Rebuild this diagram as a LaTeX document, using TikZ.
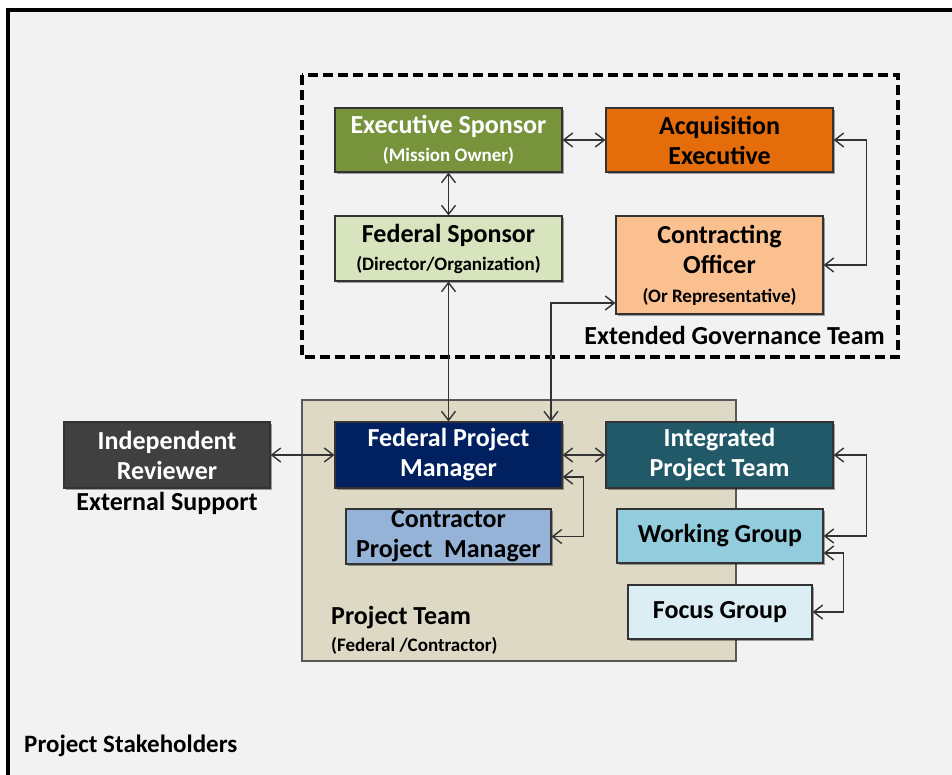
\documentclass[tikz,border=0pt]{standalone}
\usepackage{fontspec}
\setmainfont{Carlito}
\usetikzlibrary{arrows.meta,shadows,calc}
\definecolor{bgc}{HTML}{F2F2F2}
\definecolor{esc}{HTML}{77933C}
\definecolor{aec}{HTML}{E46C0A}
\definecolor{fsc}{HTML}{D7E4BD}
\definecolor{coc}{HTML}{FAC090}
\definecolor{ptc}{HTML}{DDD9C4}
\definecolor{irc}{HTML}{404040}
\definecolor{fpmc}{HTML}{002060}
\definecolor{iptc}{HTML}{215968}
\definecolor{cpmc}{HTML}{95B3D7}
\definecolor{wgc}{HTML}{93CDDD}
\definecolor{fgc}{HTML}{DBEEF4}
\newcommand{\subf}{\fontsize{19}{22}\selectfont}
\tikzset{
  box/.style={draw=black!80, line width=1.2pt, inner sep=0pt, align=center,
    font=\fontsize{26}{30}\selectfont\bfseries,
    drop shadow={shadow xshift=2pt,shadow yshift=-2pt,fill=black,opacity=.35}},
  conn/.style={draw=black!80, line width=1.4pt, {Straight Barb[length=9pt,width=14pt]}-{Straight Barb[length=9pt,width=14pt]}},
  lbl/.style={inner sep=0pt, font=\fontsize{26}{30}\selectfont\bfseries}
}
\begin{document}
\begin{tikzpicture}[x=1pt,y=-1pt]
\useasboundingbox (0,0) rectangle (952,775);
\fill[white] (0,0) rectangle (952,775);
\fill[bgc] (8,10) rectangle (960,785);
\draw[line width=3.2pt] (8,790) -- (8,10) -- (960,10);
% extended governance
\draw[line width=3.4pt, dash pattern=on 10pt off 5pt] (302,75) rectangle (898,357);
\node[lbl, anchor=east] (egt) at (885,335) {Extended Governance Team};
% project team
\draw[fill=ptc, draw=black!65, line width=1.4pt] (302,400) rectangle (736,661);
\node[lbl, anchor=west] (pt) at (331,618) {Project Team};
\node[inner sep=0pt, anchor=west, font=\subf\bfseries] (ptsub) at (331,646) {(Federal /Contractor)};
% nodes
\node[box, fill=esc, text=white, minimum width=227pt, minimum height=64pt] (ES) at (448.5,140) {Executive Sponsor\\[-2pt]{\subf (Mission Owner)}};
\node[box, fill=aec, text=black, minimum width=227pt, minimum height=64pt] (AE) at (719.5,140) {Acquisition\\Executive};
\node[box, fill=fsc, text=black, minimum width=227pt, minimum height=65pt] (FS) at (448.5,248.5) {Federal Sponsor\\[-2pt]{\subf (Director/Organization)}};
\node[box, fill=coc, text=black, minimum width=207pt, minimum height=98pt] (CO) at (719.5,265) {Contracting\\Officer\\[-1pt]{\subf (Or Representative)}};
\node[box, fill=irc, text=white, minimum width=206pt, minimum height=66pt] (IR) at (167,455) {Independent\\Reviewer};
\node[lbl] (ext) at (167,503) {External Support};
\node[box, fill=fpmc, text=white, minimum width=227pt, minimum height=66pt] (FPM) at (448.5,455) {Federal Project\\Manager};
\node[box, fill=iptc, text=white, minimum width=227pt, minimum height=66pt] (IPT) at (719.5,455) {Integrated\\Project Team};
\node[box, fill=cpmc, text=black, minimum width=205pt, minimum height=55pt] (CPM) at (448.5,536.5) {Contractor\\Project\ \ Manager};
\node[box, fill=wgc, text=black, minimum width=206pt, minimum height=54pt] (WG) at (720,536) {Working Group};
\node[box, fill=fgc, text=black, minimum width=184pt, minimum height=54pt] (FG) at (720,612) {Focus Group};
\node[lbl, anchor=west, font=\fontsize{25}{28}\selectfont\bfseries] (ps) at (24,746) {Project Stakeholders};
% connectors
\draw[conn] (ES.east) -- (AE.west);
\draw[conn] (ES.south) -- (FS.north);
\draw[conn] (FS.south) -- (FPM.north);
\draw[conn] ([yshift=-38pt]CO.west) -| ([xshift=102.5pt]FPM.north);
\draw[conn] (AE.east) -- ++(33,0) |- (CO.east);
\draw[conn] (IR.east) -- (FPM.west);
\draw[conn] (FPM.east) -- (IPT.west);
\draw[conn] ([yshift=-22pt]FPM.east) -- ++(21,0) |- (CPM.east);
\draw[conn] (IPT.east) -- ++(33,0) |- (WG.east);
\draw[conn] ([yshift=-17pt]WG.east) -- ++(20,0) |- (FG.east);
\end{tikzpicture}
\end{document}
